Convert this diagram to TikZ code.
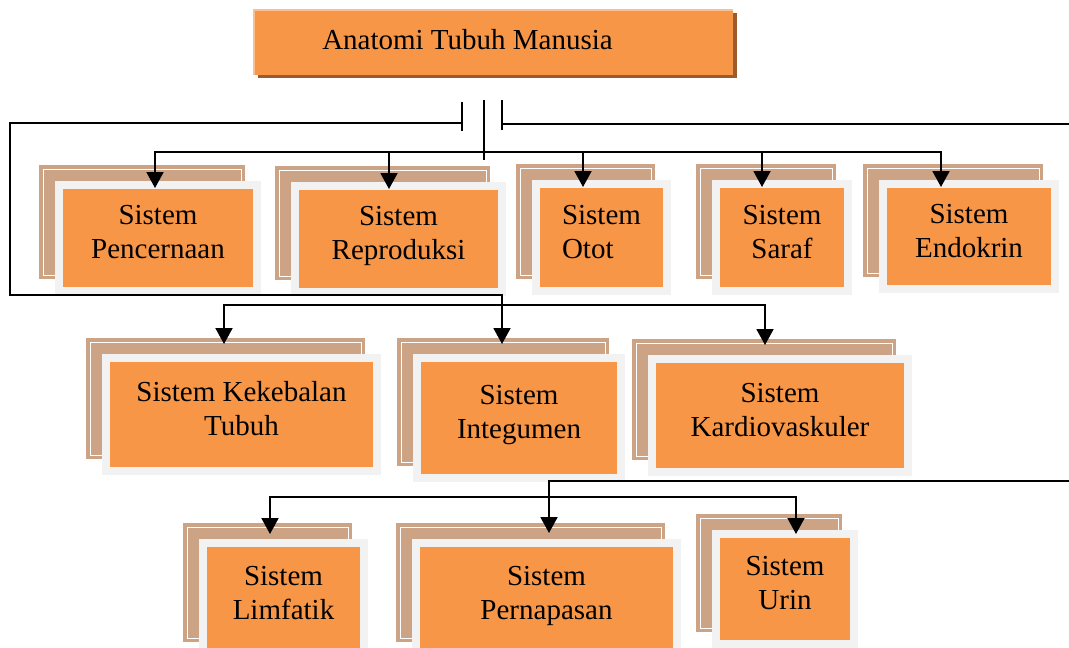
\documentclass[tikz,border=0pt]{standalone}
\usepackage{fontspec}
\setmainfont{Liberation Serif}
\usepackage{tikz}
\usetikzlibrary{positioning, calc, arrows.meta, shadows}

\definecolor{boxorange}{HTML}{F79646}
\definecolor{tanbk}{HTML}{CDA385}
\definecolor{framegray}{HTML}{F2F2F2}
\definecolor{titleshade}{HTML}{9C5B2A}
\definecolor{titlelight}{HTML}{FAC090}

% one organ system: back card, then the framed front card
\newcommand{\organ}[6][]{%
  \node[backbox, minimum width=#4, minimum height=#5] (#2-bk) at ($#3+(-16,-16)$) {};
  \node[sysbox, #1, minimum width=#4, minimum height=#5] (#2) at #3 {#6};}

\begin{document}
\begin{tikzpicture}[x=0.02cm, y=-0.02cm,
    backbox/.style={fill=tanbk, draw=tanbk, double=white, double distance=0.4pt,
      line width=0.07cm, inner sep=0pt},
    sysbox/.style={fill=boxorange, draw=framegray, line width=0.16cm, inner sep=0pt,
      align=center, text depth=0.24cm, font=\fontsize{16.5}{19.3}\selectfont},
    link/.style={line width=1.1pt, line cap=rect},
    arr/.style={link, -{Triangle[width=0.34cm, length=0.32cm]}}]
        \useasboundingbox (0,0) rectangle (1069,648);
        \clip (0,0) rectangle (1069,648);

        % the title
        \node[fill=boxorange, minimum width=9.58cm, minimum height=1.3cm, inner sep=0pt,
          drop shadow={shadow xshift=0.08cm, shadow yshift=-0.06cm, fill=titleshade, opacity=1},
          label={[font=\fontsize{16.5}{19.3}\selectfont, xshift=-0.52cm, yshift=0.05cm]center:Anatomi Tubuh Manusia}]
          (title) at (493.5,42.5) {};
        \draw[titlelight, line width=0.04cm] (title.south west) -- (title.north west) -- (title.north east);

        \coordinate (jl) at (462,123);
        \coordinate (jm) at (484,101);
        \coordinate (jr) at (502,124);
        \coordinate (lt) at (10,123);
        \coordinate (lb) at (10,295);
        \coordinate (E)  at (1075,0);
        \coordinate (bus1) at (0,152);
        \coordinate (bus2) at (0,305);
        \coordinate (bus3) at (0,497);

        % first row
        \organ{pencernaan}{(158,238)}{3.96cm}{2.12cm}{Sistem\\Pencernaan}
        \organ{reproduksi}{(398.5,239)}{4.14cm}{2.12cm}{Sistem\\Reproduksi}
        \organ[align=left]{otot}{(601.5,237.5)}{2.62cm}{2.14cm}{Sistem\\Otot}
        \organ{saraf}{(782,237.5)}{2.64cm}{2.14cm}{Sistem\\Saraf}
        \organ{endokrin}{(969,236.5)}{3.44cm}{2.10cm}{Sistem\\Endokrin}

        % second row
        \organ{kekebalan}{(241.5,414.5)}{5.42cm}{2.26cm}{Sistem Kekebalan\\Tubuh}
        \organ{integumen}{(519,418)}{4.08cm}{2.40cm}{Sistem\\Integumen}
        \organ{kardiovaskuler}{(780,415.5)}{5.12cm}{2.26cm}{Sistem\\Kardiovaskuler}

        % third row
        \organ{limfatik}{(283.5,598.5)}{3.22cm}{2.22cm}{Sistem\\Limfatik}
        \organ{pernapasan}{(546.5,598.5)}{5.22cm}{2.22cm}{Sistem\\Pernapasan}
        \organ{urin}{(785,589)}{2.76cm}{2.20cm}{Sistem\\Urin}

        % lines under the title
        \draw[link] ($(jl)+(0,-20)$) -- ($(jl)+(0,7)$);
        \draw[link] ($(jr)+(0,-23)$) -- ($(jr)+(0,5)$);
        \draw[link] (jm) -- ++(0,58);
        \draw[link] (jr) -- (jr -| E);
        \draw[arr] (jl) -- (lt) -- (lb) -- ($(integumen.north |- lb)+(-17,0)$)
          -- ($(integumen.north)+(-17,-10)$);

        % row 1 arrows
        \draw[link] ($(pencernaan.north |- bus1)+(-3,0)$) -- ($(endokrin.north |- bus1)+(-28,0)$);
        \foreach \n/\dx in {pencernaan/-3, reproduksi/-9.5, otot/-18.5, saraf/-20, endokrin/-28}
          \draw[arr] ($(\n.north |- bus1)+(\dx,0)$) -- ($(\n.north)+(\dx,7)$);

        % row 2 arrows
        \draw[link] ($(kekebalan.north |- bus2)+(-17.5,0)$) -- ($(kardiovaskuler.north |- bus2)+(-15,0)$);
        \foreach \n/\dx in {kekebalan/-17.5, kardiovaskuler/-15}
          \draw[arr] ($(\n.north |- bus2)+(\dx,0)$) -- ($(\n.north)+(\dx,-10)$);

        % row 3 arrows
        \coordinate (ib) at ($(pernapasan.north |- integumen.south)+(2.5,-1)$);
        \draw[link] (ib) -- (ib -| E);
        \draw[arr] (ib) -- ($(pernapasan.north)+(2.5,-6)$);
        \draw[link] ($(limfatik.north |- bus3)+(-13.5,0)$) -- ($(urin.north |- bus3)+(11,0)$);
        \foreach \n/\dx/\dy in {limfatik/-13.5/-5, urin/11/4}
          \draw[arr] ($(\n.north |- bus3)+(\dx,0)$) -- ($(\n.north)+(\dx,\dy)$);
\end{tikzpicture}
\end{document}
